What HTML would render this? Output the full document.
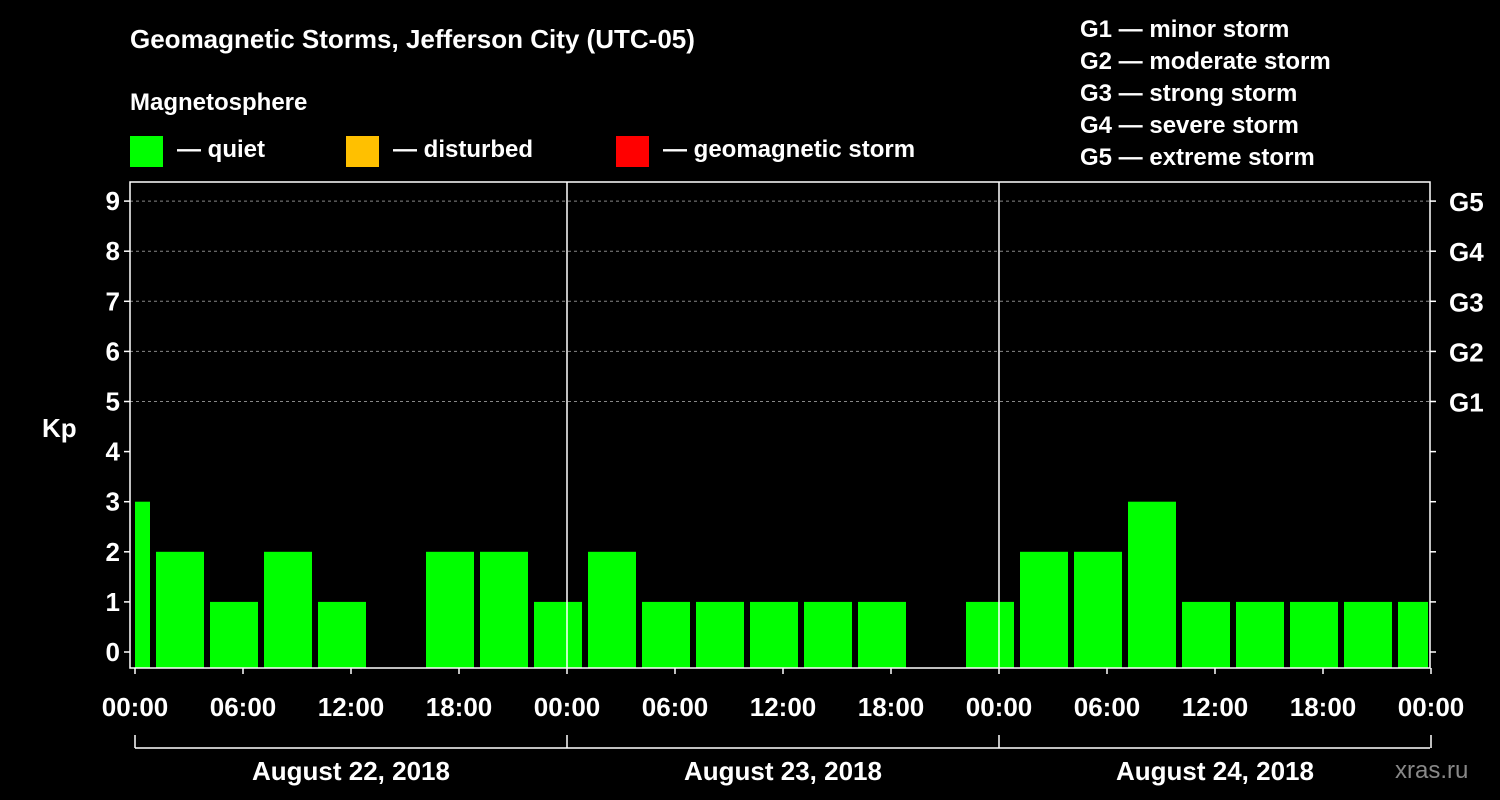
<!DOCTYPE html>
<html><head><meta charset="utf-8"><style>
html,body{margin:0;padding:0;background:#000;}
svg{display:block;font-family:"Liberation Sans",Arial,sans-serif;font-weight:bold;}
</style></head><body>
<svg id="c" width="1500" height="800">
<rect width="1500" height="800" fill="#000"/>
<text x="130" y="48" fill="#fff" font-size="26">Geomagnetic Storms, Jefferson City (UTC-05)</text>
<text x="130" y="110" fill="#fff" font-size="24">Magnetosphere</text>
<rect x="130" y="136" width="33" height="31" fill="#00ff00"/>
<text x="177" y="157" fill="#fff" font-size="24">— quiet</text>
<rect x="346" y="136" width="33" height="31" fill="#ffc000"/>
<text x="393" y="157" fill="#fff" font-size="24">— disturbed</text>
<rect x="616" y="136" width="33" height="31" fill="#ff0000"/>
<text x="663" y="157" fill="#fff" font-size="24">— geomagnetic storm</text>
<g fill="#fff" font-size="24">
<text x="1080" y="37">G1 — minor storm</text>
<text x="1080" y="69">G2 — moderate storm</text>
<text x="1080" y="101">G3 — strong storm</text>
<text x="1080" y="133">G4 — severe storm</text>
<text x="1080" y="165">G5 — extreme storm</text>
</g>
<text x="42" y="437" fill="#fff" font-size="26">Kp</text>
<text x="1395" y="778" fill="#888" font-size="24" font-weight="normal">xras.ru</text>
<g id="plot"></g>
</svg>
<script>
const kpValues=[3,2,1,2,1,0,2,2,1,2,1,1,1,1,1,0,1,2,2,3,1,1,1,1,1];
const yTicks=[0,1,2,3,4,5,6,7,8,9];
const gLabels=["","","","","","G1","G2","G3","G4","G5"];
const xLabels=["00:00","06:00","12:00","18:00","00:00","06:00","12:00","18:00","00:00","06:00","12:00","18:00","00:00"];
const dayLabels=["August 22, 2018","August 23, 2018","August 24, 2018"];
const NS="http://www.w3.org/2000/svg";
const g=document.getElementById('plot');
const X0=135,PXH=18,PL=130,PR=1430,PT=182,PB=668;
const xs=h=>X0+h*PXH;
const ys=v=>652-v*50.1;
function mk(t,a,p){const e=document.createElementNS(NS,t);for(const k in a)e.setAttribute(k,a[k]);(p||g).appendChild(e);return e;}
// grid
for(const v of yTicks){
 const y=ys(v);
 if(v>=5){const l=mk('line',{x1:PL,x2:PR,y1:y,y2:y,stroke:'#888','stroke-dasharray':'3,3'});
 
 }
 const tl=mk('line',{x1:PL-6,x2:PL,y1:y,y2:y,stroke:'#fff','stroke-width':1.5});
 
 
 const tr=mk('line',{x1:PR,x2:PR+6,y1:y,y2:y,stroke:'#fff','stroke-width':1.5});
 
 
 const t=mk('text',{x:PL-10,y:y+9,fill:'#fff','font-size':26,'text-anchor':'end'});t.textContent=v;
 
 
 if(gLabels[v]){const gt=mk('text',{x:1449,y:y+10,fill:'#fff','font-size':26});gt.textContent=gLabels[v];
 
 }
}
// bars: 3h bins starting at -2h
kpValues.forEach((v,i)=>{
 if(v<=0)return;
 let a=xs(-2+3*i)+3,b=xs(1+3*i)-3;
 a=Math.max(a,X0);b=Math.min(b,PR-2);
 const r=mk('rect',{x:a,y:ys(v),width:b-a,height:PB-ys(v),fill:'#00ff00'});
 
 
});
// day separators
for(let d=1;d<3;d++){const l=mk('line',{x1:xs(24*d),x2:xs(24*d),y1:PT,y2:PB,stroke:'#fff','stroke-width':1.5});
 
 }
// frame
const f=mk('rect',{x:PL,y:PT,width:PR-PL,height:PB-PT,fill:'none',stroke:'#fff','stroke-width':1.5});


// x ticks
xLabels.forEach((s,i)=>{
 const x=xs(6*i);
 const l=mk('line',{x1:x,x2:x,y1:PB,y2:PB+6,stroke:'#fff','stroke-width':1.5});
 
 
 const t=mk('text',{x:x,y:716,fill:'#fff','font-size':26,'text-anchor':'middle'});t.textContent=s;
 
 
});
// date bracket
const bl=mk('line',{x1:X0,x2:PR,y1:748,y2:748,stroke:'#fff','stroke-width':1.5});


for(let d=0;d<=3;d++){const l=mk('line',{x1:xs(24*d),x2:xs(24*d),y1:735,y2:748,stroke:'#fff','stroke-width':1.5});
 
 }
dayLabels.forEach((s,d)=>{
 const t=mk('text',{x:xs(24*d+12),y:780,fill:'#fff','font-size':26,'text-anchor':'middle'});t.textContent=s;
 
 
});
</script>
</body></html>
